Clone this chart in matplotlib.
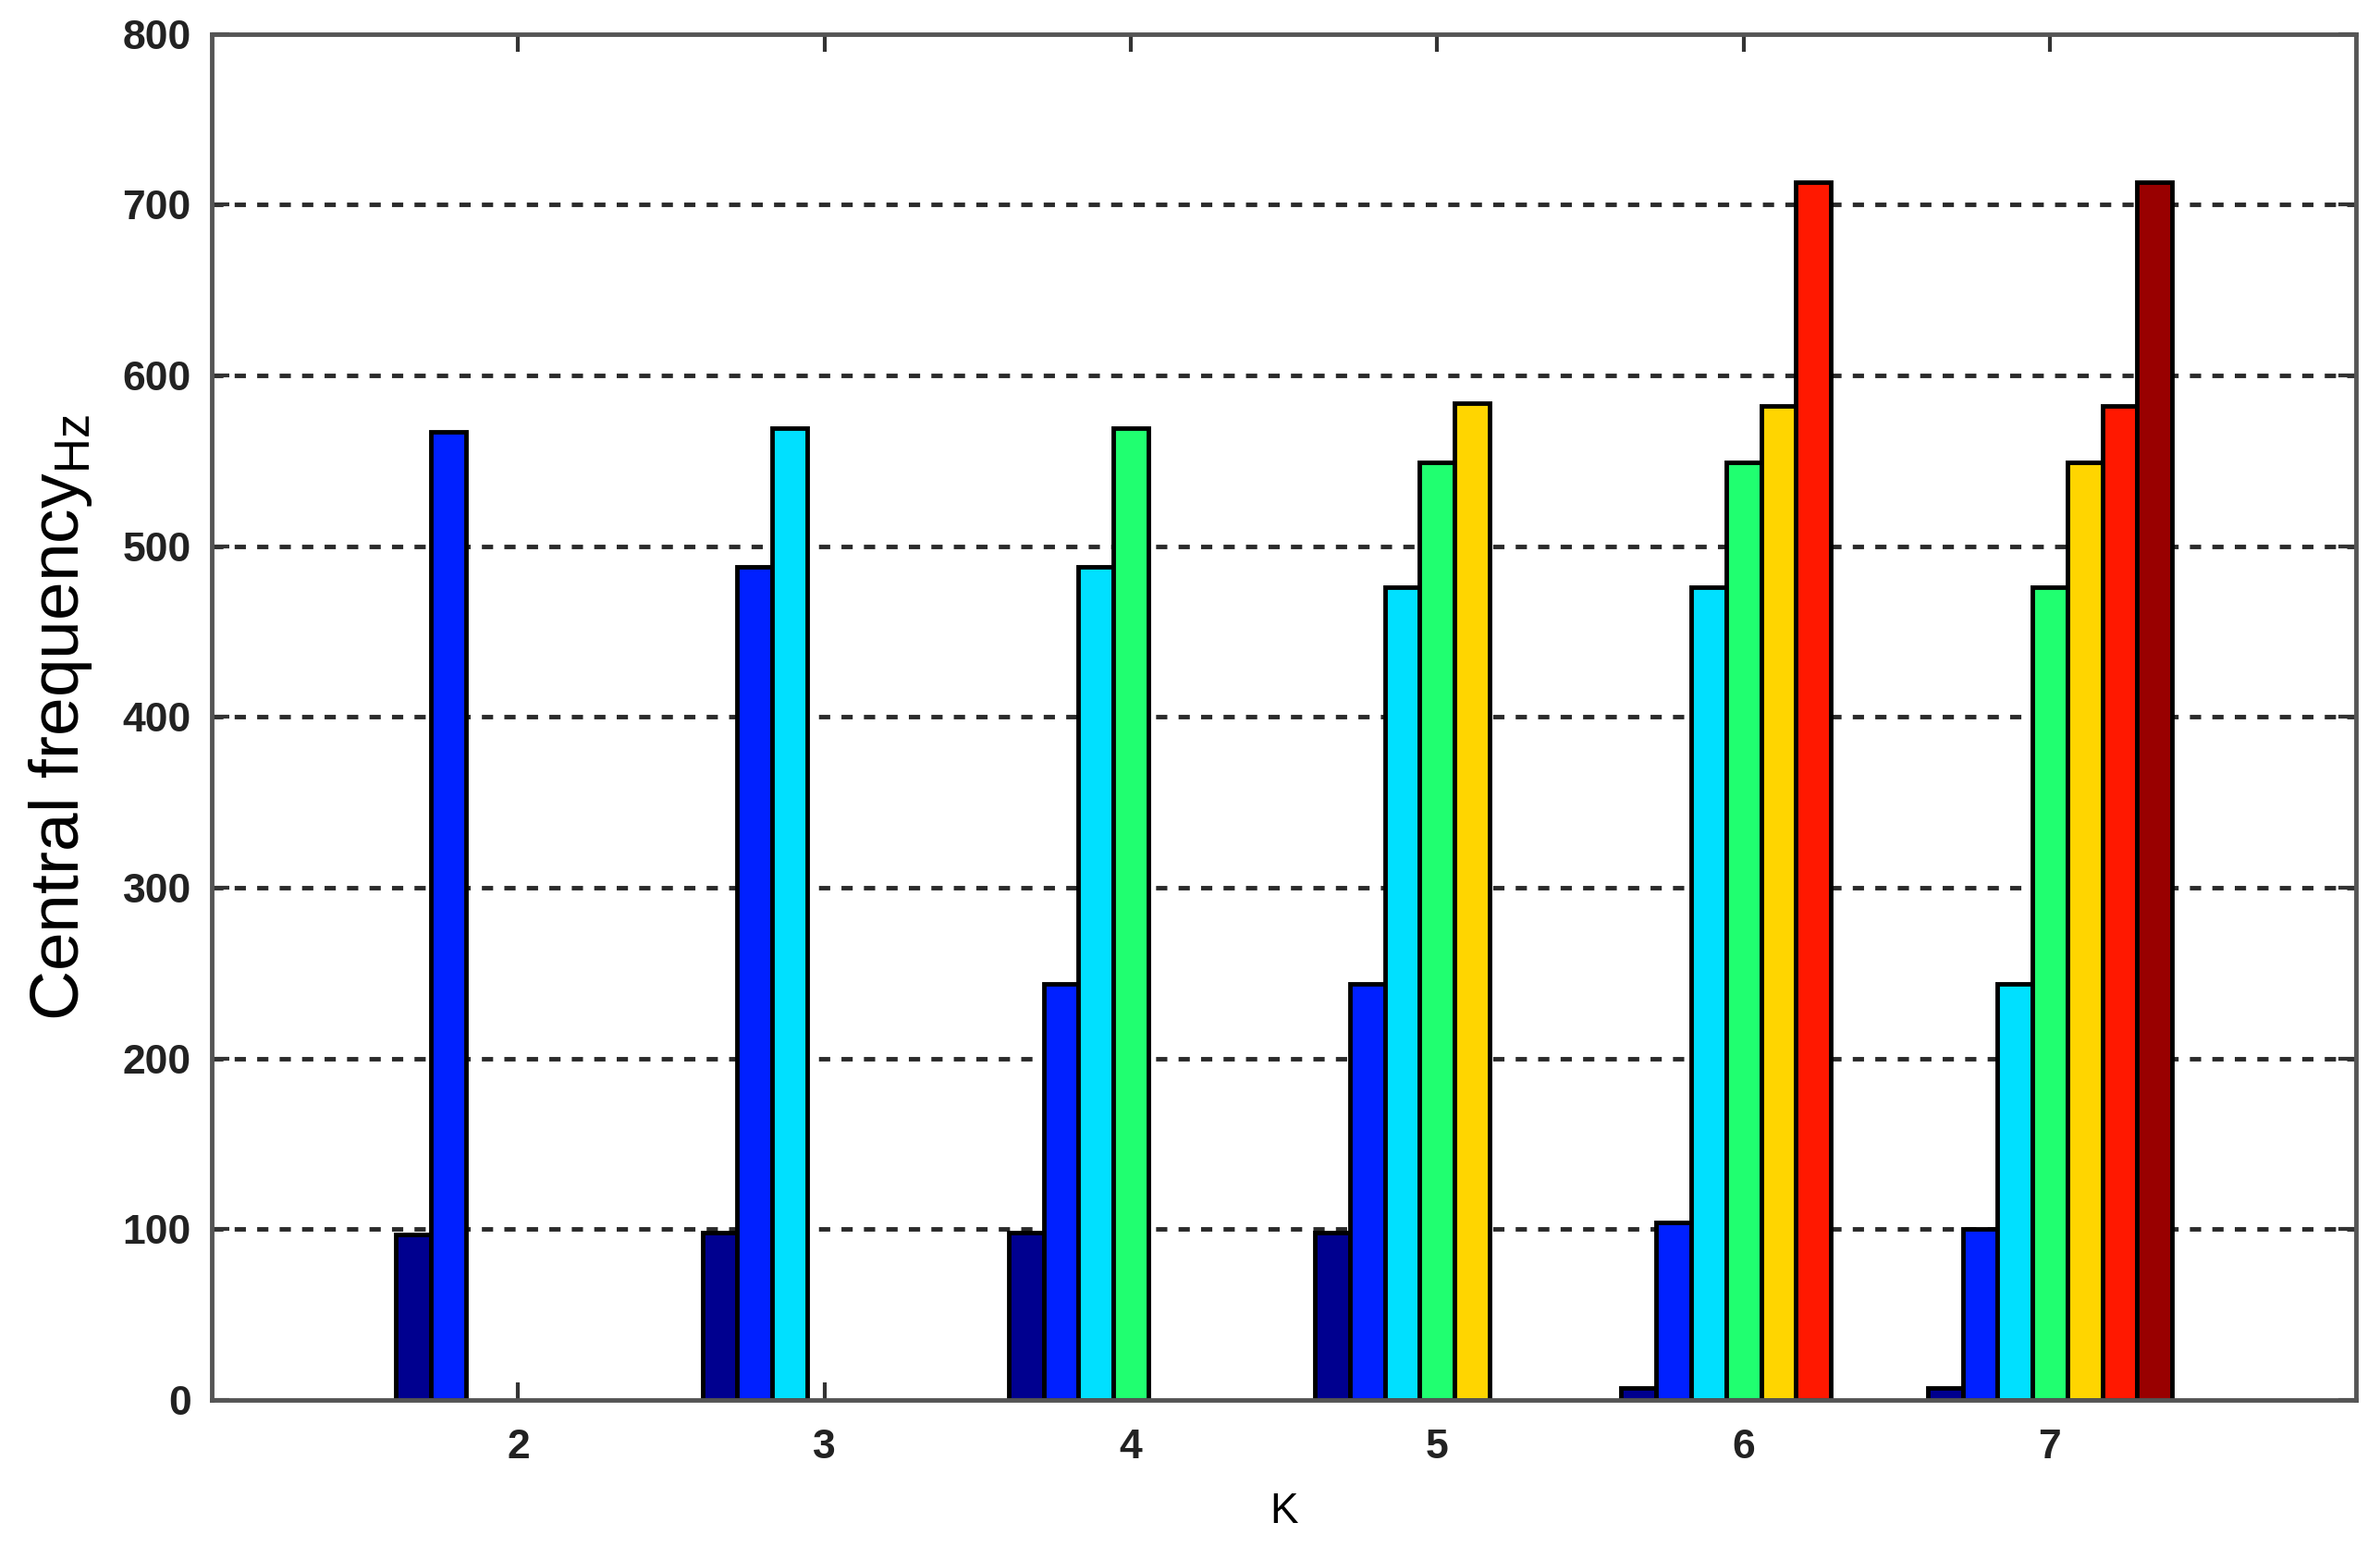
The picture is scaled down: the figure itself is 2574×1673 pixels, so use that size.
import numpy as np
import matplotlib
matplotlib.use("Agg")
import matplotlib.pyplot as plt

plt.rcParams['font.family'] = ['Liberation Sans', 'DejaVu Sans']
plt.rcParams['mathtext.fontset'] = 'custom'
plt.rcParams['mathtext.rm'] = 'Liberation Sans'

# data
K = [2, 3, 4, 5, 6, 7]
nan = np.nan
mode1 = [97, 98, 98, 98, 7, 7]
mode2 = [567, 488, 244, 244, 104, 100]
mode3 = [nan, 569, 488, 476, 476, 244]
mode4 = [nan, nan, 569, 549, 549, 476]
mode5 = [nan, nan, nan, 584, 582, 549]
mode6 = [nan, nan, nan, nan, 713, 582]
mode7 = [nan, nan, nan, nan, nan, 713]
modes = [mode1, mode2, mode3, mode4, mode5, mode6, mode7]

colors = ['#00008f', '#0020ff', '#00e0ff', '#20ff70', '#ffd500', '#ff1800', '#990000']

fig = plt.figure(figsize=(25.74, 16.73), dpi=100)
ax = fig.add_axes([0.089, 0.095, 0.901, 0.883])

x = np.array(K, dtype=float)
step = 0.114
w = step
for i, vals in enumerate(modes):
    vals = np.array(vals, dtype=float)
    ok = ~np.isnan(vals)
    ax.bar(x[ok] + (i - 3) * step, vals[ok], width=w, color=colors[i],
           edgecolor='black', linewidth=3.5, zorder=3)

ax.set_xlim(1, 8)
ax.set_ylim(0, 800)
ax.set_xticks(K)
ax.set_yticks(np.arange(0, 801, 100))

for yv in range(100, 800, 100):
    ax.axhline(yv, color='#2a2a2a', linestyle=(0, (2.5, 2.5)), linewidth=3.5, zorder=1)

for s in ax.spines.values():
    s.set_linewidth(3.5)
    s.set_color('#555555')
    s.set_zorder(4)

ax.tick_params(direction='in', length=14, width=3, top=True, right=True,
               labelsize=32, color='#333333')
for lab in ax.get_xticklabels() + ax.get_yticklabels():
    lab.set_fontweight('bold')
    lab.set_color('#222222')
ax.tick_params(axis='y', pad=16)
ax.tick_params(axis='x', pad=22)

ax.set_xlabel('K', fontsize=33, labelpad=20)
ax.set_ylabel(r'Central frequency$_{\mathrm{Hz}}$', fontsize=54, labelpad=22)

fig.savefig('out.png', dpi=100, facecolor='white')
